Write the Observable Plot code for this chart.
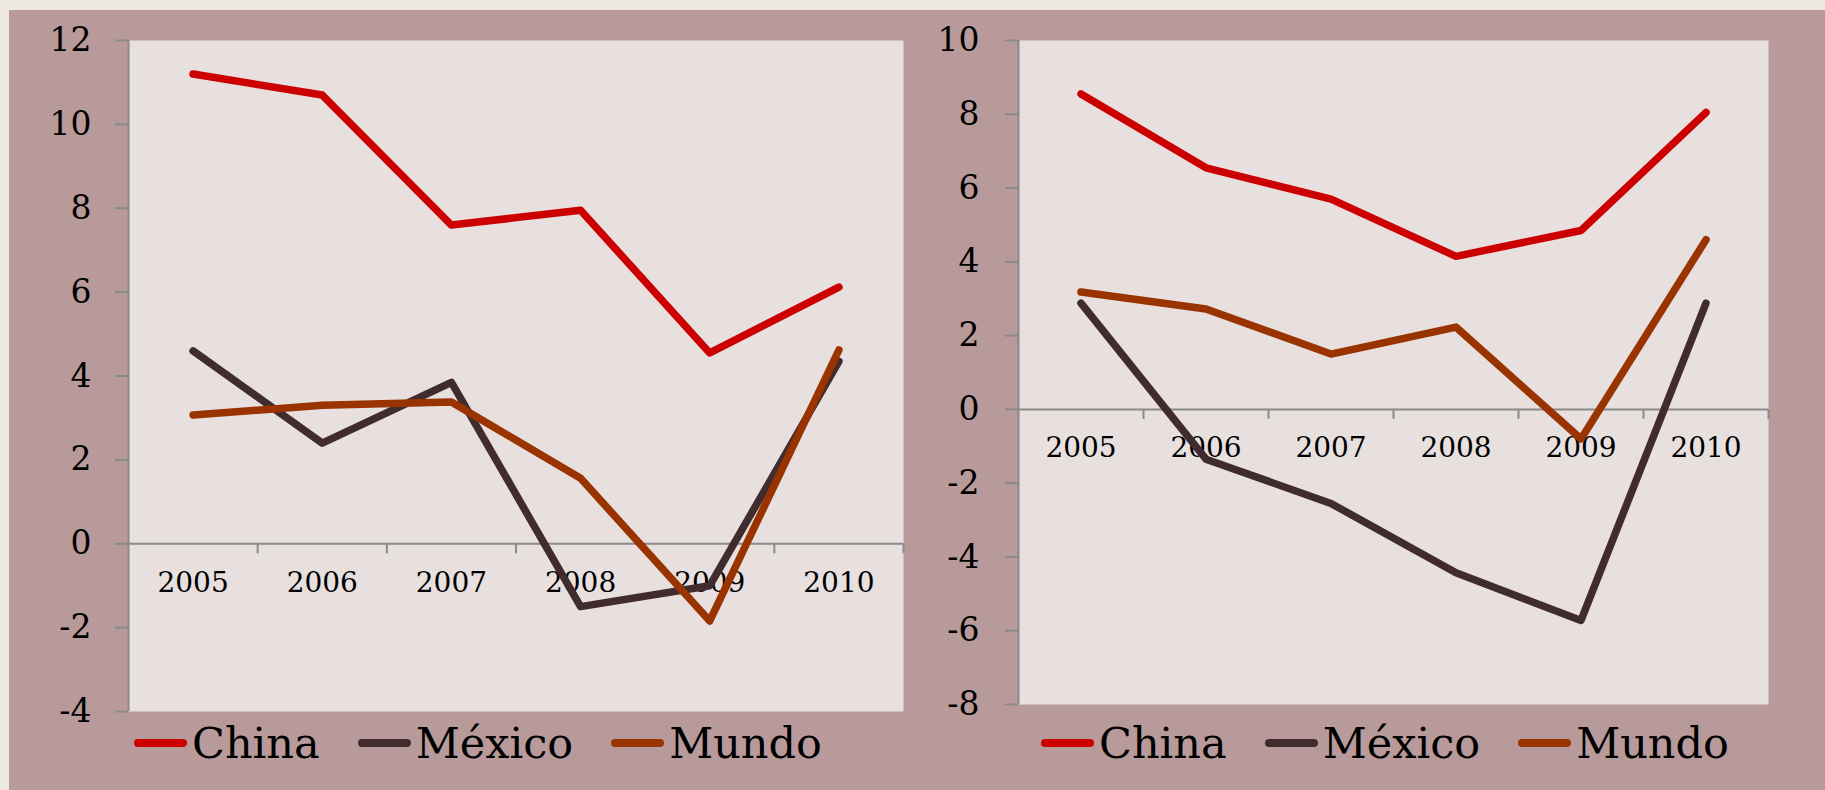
<!DOCTYPE html>
<html>
<head>
<meta charset="utf-8">
<script src="https://cdn.jsdelivr.net/npm/d3@7"></script>
<script src="https://cdn.jsdelivr.net/npm/@observablehq/plot@0.6"></script>
<style>
  html, body { margin: 0; padding: 0; }
  body { width: 1825px; height: 790px; background: #EFEADF; position: relative; overflow: hidden; font-family: "DejaVu Serif", serif; }
  #panel { position: absolute; left: 9px; top: 10px; right: 0; bottom: 0; background: #B99A9A; }
  .chart { position: absolute; top: 0; }
  .legend { position: absolute; top: 718px; display: flex; align-items: center; gap: 38px; font-family: "DejaVu Serif", serif; font-size: 43px; color: #000; }
  .item { display: flex; align-items: center; gap: 5px; }
  .sw { width: 53px; height: 8px; border-radius: 4px; }
</style>
</head>
<body>
<div id="panel"></div>
<div id="left" class="chart" style="left:0px"></div>
<div id="right" class="chart" style="left:910px"></div>
<div id="legL" class="legend" style="left:134px"></div>
<div id="legR" class="legend" style="left:1041px"></div>
<script>
// ---- data ----
const years = [2005, 2006, 2007, 2008, 2009, 2010];
const seriesNames = ["China", "México", "Mundo"];
const seriesColors = ["#CC0000", "#402C2E", "#993300"];

// left chart
const chinaLeft  = [11.2, 10.7, 7.6, 7.95, 4.55, 6.12];
const mexicoLeft = [4.6, 2.4, 3.85, -1.5, -1.0, 4.35];
const mundoLeft  = [3.07, 3.3, 3.38, 1.56, -1.84, 4.62];
const yTicksLeft = [-4, -2, 0, 2, 4, 6, 8, 10, 12];

// right chart
const chinaRight  = [8.55, 6.55, 5.7, 4.15, 4.85, 8.05];
const mexicoRight = [2.88, -1.35, -2.55, -4.43, -5.72, 2.88];
const mundoRight  = [3.18, 2.72, 1.5, 2.23, -0.8, 4.6];
const yTicksRight = [-8, -6, -4, -2, 0, 2, 4, 6, 8, 10];

const gray = "#8A8A8A";
const font = "DejaVu Serif";

function makeRows(arrs) {
  const rows = [];
  arrs.forEach((vals, s) => vals.forEach((v, i) => rows.push({year: years[i], value: v, series: seriesNames[s]})));
  return rows;
}

function chart({rows, yTicks, width, marginLeft, marginRight, marginBottom, tickPadding}) {
  const bounds = years.map(y => y - 0.5).concat([years[years.length - 1] + 0.5]);
  return Plot.plot({
    width, height: 740,
    marginLeft, marginRight, marginTop: 40, marginBottom,
    style: {background: "transparent", fontFamily: font, color: "#000", overflow: "visible"},
    x: {type: "linear", domain: [bounds[0], bounds[bounds.length - 1]], axis: null},
    y: {domain: [yTicks[0], yTicks[yTicks.length - 1]], axis: null},
    color: {domain: seriesNames, range: seriesColors},
    marks: [
      Plot.frame({fill: "#E8DFDF", stroke: null}),
      Plot.axisY({ticks: yTicks, tickSize: 13, tickPadding, fontSize: 33, stroke: gray, strokeWidth: 2, label: null, tickFormat: d => String(d)}),
      Plot.ruleX([bounds[0]], {stroke: gray, strokeWidth: 2}),
      Plot.ruleY([0], {stroke: gray, strokeWidth: 2}),
      Plot.ruleX(bounds.slice(1), {x: d => d, y1: 0, y2: 0, insetBottom: -10, stroke: gray, strokeWidth: 2}),
      Plot.text(years, {x: d => d, y: 0, text: d => String(d), dy: 39, fontSize: 28, fill: "#000"}),
      Plot.line(rows, {x: "year", y: "value", z: "series", stroke: "series", strokeWidth: 7.5, strokeLinecap: "round", strokeLinejoin: "round"})
    ]
  });
}

document.getElementById("left").append(chart({
  rows: makeRows([chinaLeft, mexicoLeft, mundoLeft]), yTicks: yTicksLeft,
  width: 910, marginLeft: 128, marginRight: 7, marginBottom: 29, tickPadding: 24
}));
document.getElementById("right").append(chart({
  rows: makeRows([chinaRight, mexicoRight, mundoRight]), yTicks: yTicksRight,
  width: 915, marginLeft: 108, marginRight: 57, marginBottom: 36, tickPadding: 26
}));

function legend(el) {
  seriesNames.forEach((n, i) => {
    const it = document.createElement("div"); it.className = "item";
    const sw = document.createElement("div"); sw.className = "sw"; sw.style.background = seriesColors[i];
    const t = document.createElement("span"); t.textContent = n;
    it.append(sw, t); el.append(it);
  });
}
legend(document.getElementById("legL"));
legend(document.getElementById("legR"));
</script>
</body>
</html>
